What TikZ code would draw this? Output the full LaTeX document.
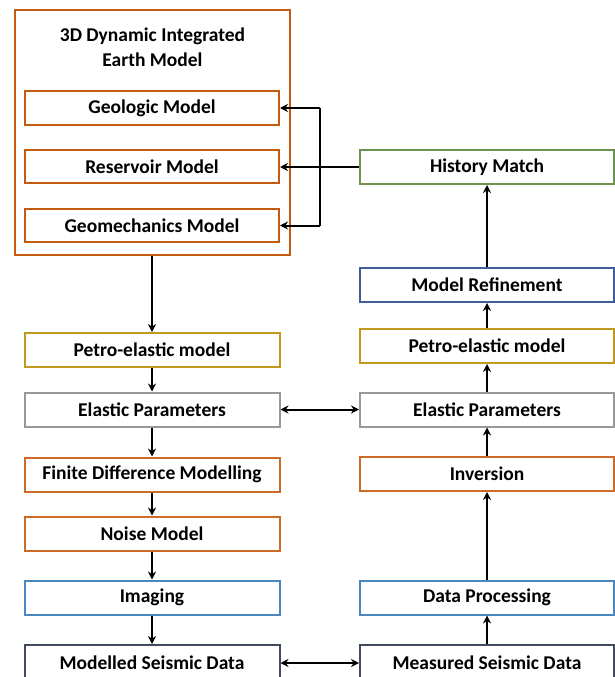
\documentclass[tikz,border=0pt]{standalone}
\usepackage{fontspec}
\setmainfont{Carlito}
\usetikzlibrary{arrows.meta}
\definecolor{corange}{HTML}{C55A11}
\definecolor{corange2}{HTML}{CC6A28}
\definecolor{cgold}{HTML}{C09A1E}
\definecolor{cgray}{HTML}{999999}
\definecolor{cblue}{HTML}{4A86C0}
\definecolor{cnavy}{HTML}{3F5E9A}
\definecolor{cdark}{HTML}{414B5B}
\definecolor{cgreen}{HTML}{6E9250}
\tikzset{
  box/.style={draw, line width=2pt, fill=white, minimum height=34pt, inner sep=0pt,
    font=\fontsize{19.5}{23}\selectfont\bfseries, text=black},
  lbox/.style={box, minimum width=255pt},
  rbox/.style={box, minimum width=254pt},
  arr/.style={line width=2pt, -{Stealth[length=8pt,width=8pt]}},
  darr/.style={line width=2pt, {Stealth[length=8pt,width=8pt]}-{Stealth[length=8pt,width=8pt]}},
  ttl/.style={font=\fontsize{19.5}{23}\selectfont\bfseries, inner sep=0pt}
}
\begin{document}
\begin{tikzpicture}[x=1pt,y=-1pt]
\clip (0,0) rectangle (615,677);
\fill[white] (0,0) rectangle (615,677);
% outer earth model box
\node[draw=corange, line width=2pt, minimum width=275pt, minimum height=245pt, inner sep=0pt] (outer) at (152.5,132.5) {};
\node[ttl] (t1) at (152.5,36) {3D Dynamic Integrated};
\node[ttl] (t2) at (152.5,60) {Earth Model};
\node[box, draw=corange, minimum width=254pt] (geo) at (152,108) {Geologic Model};
\node[box, draw=corange, minimum width=254pt, minimum height=33pt] (res) at (152,166.5) {Reservoir Model};
\node[box, draw=corange, minimum width=254pt, minimum height=33pt] (gmc) at (152,225.5) {Geomechanics Model};
% left column
\node[lbox, draw=cgold] (pe1) at (152,350) {Petro-elastic model};
\node[lbox, draw=cgray] (el1) at (152,409.5) {Elastic Parameters};
\node[lbox, draw=corange2] (fd) at (152,474.5) {Finite Difference Modelling};
\node[lbox, draw=corange2] (nm) at (152,533.5) {Noise Model};
\node[lbox, draw=cblue] (img) at (152,597.5) {Imaging};
\node[lbox, draw=cdark, minimum height=36pt] (mod) at (152,663) {Modelled Seismic Data};
% right column
\node[rbox, draw=cgreen] (hm) at (487,167) {History Match};
\node[rbox, draw=cnavy] (mr) at (487,285) {Model Refinement};
\node[rbox, draw=cgold] (pe2) at (487,346) {Petro-elastic model};
\node[rbox, draw=cgray] (el2) at (487,409.5) {Elastic Parameters};
\node[rbox, draw=corange2] (inv) at (487,474) {Inversion};
\node[rbox, draw=cblue] (dp) at (487,597.5) {Data Processing};
\node[rbox, draw=cdark, minimum height=36pt] (meas) at (487,663) {Measured Seismic Data};
% history match feedback
\coordinate (bus) at (320,167);
\draw[arr] (hm.west) -- (res.east |- hm.west);
\draw[line width=2pt] (bus |- geo.east) -- (bus |- gmc.east);
\draw[arr] (bus |- geo.east) -- (geo.east);
\draw[arr] (bus |- gmc.east) -- (gmc.east);
% left chain
\draw[arr] (pe1.north |- outer.south) -- (pe1.north);
\draw[arr] (pe1) -- (el1);
\draw[arr] (el1) -- (fd);
\draw[arr] (fd) -- (nm);
\draw[arr] (nm) -- (img);
\draw[arr] (img) -- (mod);
% right chain
\draw[arr] (meas) -- (dp);
\draw[arr] (dp) -- (inv);
\draw[arr] (inv) -- (el2);
\draw[arr] (el2) -- (pe2);
\draw[arr] (pe2) -- (mr);
\draw[arr] (mr) -- (hm);
% cross links
\draw[darr] (el1.east) -- (el2.west);
\draw[darr] (mod.east) -- (meas.west);
\end{tikzpicture}
\end{document}
